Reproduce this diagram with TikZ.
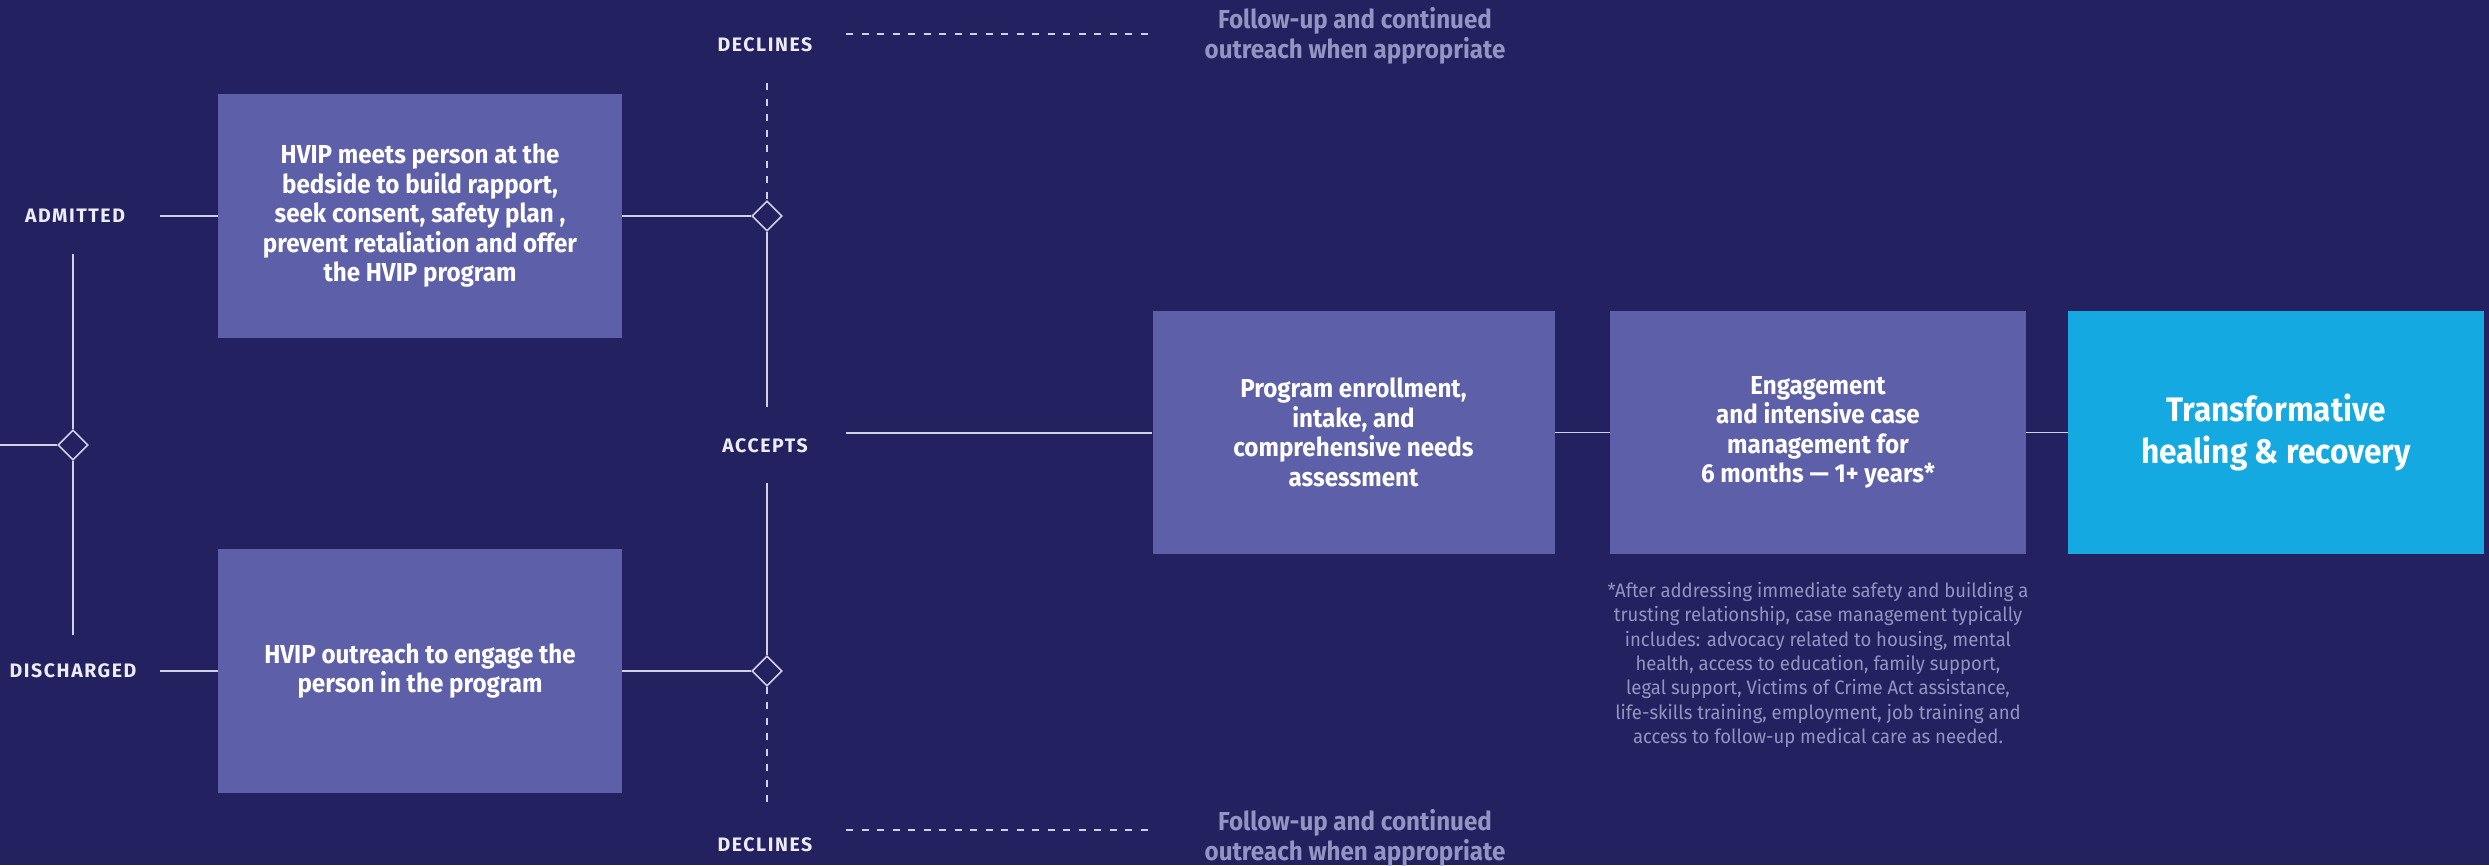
\documentclass[tikz,border=0pt]{standalone}
\usepackage{fontspec}
\usetikzlibrary{shapes.geometric}
\setmainfont{Fira Sans}
\newfontfamily\condf{Fira Sans}[FakeStretch=0.93]
\newfontfamily\notef{Fira Sans}[FakeStretch=0.95]
\newfontfamily\lblf{Fira Sans}[LetterSpace=8]
\definecolor{bg}{HTML}{23215F}
\definecolor{boxc}{HTML}{5D60A9}
\definecolor{cyanc}{HTML}{14AAE1}
\definecolor{linec}{HTML}{D0D0E6}
\definecolor{greyt}{HTML}{9394C2}
\definecolor{lblc}{HTML}{ECECF6}
\tikzset{
  conn/.style={draw=linec, line width=1.6pt},
  dashconn/.style={conn, dash pattern=on 7pt off 8.5pt},
  pbox/.style={fill=boxc, draw=none, inner sep=0pt, align=center, text=white,
    font=\condf\bfseries\fontsize{26}{29.5}\selectfont},
  cbox/.style={pbox, fill=cyanc, font=\condf\bfseries\fontsize{34}{41.5}\selectfont},
  dia/.style={diamond, draw=linec, line width=1.6pt, fill=bg, inner sep=0pt,
    minimum width=30pt, minimum height=30pt},
  lbl/.style={text=lblc, inner sep=0pt, font=\lblf\bfseries\fontsize{19.5}{22}\selectfont},
  fu/.style={text=greyt, align=center, inner sep=0pt,
    font=\condf\bfseries\fontsize{26}{30}\selectfont},
  note/.style={text=greyt, align=center, inner sep=0pt,
    font=\notef\fontsize{19.5}{24.3}\selectfont}
}
\begin{document}
\begin{tikzpicture}[x=1pt,y=-1pt]
\fill[bg] (0,0) rectangle (2489,865);
\useasboundingbox (0,0) rectangle (2489,865);

% labels
\node[lbl] (adm) at (75,216) {ADMITTED};
\node[lbl] (dis) at (73,671) {DISCHARGED};
\node[lbl] (dec1) at (765,45) {DECLINES};
\node[lbl] (acc) at (765,446) {ACCEPTS};
\node[lbl] (dec2) at (765,845) {DECLINES};

% boxes
\node[pbox, minimum width=404pt, minimum height=244pt] (box1) at (420,216)
  {HVIP meets person at the\\ bedside to build rapport,\\ seek consent, safety plan ,\\ prevent retaliation and offer\\ the HVIP program};
\node[pbox, minimum width=404pt, minimum height=244pt] (box2) at (420,671)
  {HVIP outreach to engage the\\ person in the program};
\node[pbox, minimum width=402pt, minimum height=243pt] (box3) at (1353.5,432.5)
  {Program enrollment,\\ intake, and\\ comprehensive needs\\ assessment};
\node[pbox, minimum width=416pt, minimum height=243pt] (box4) at (1818,432.5)
  {Engagement\\ and intensive case\\ management for\\ 6 months — 1+ years*};
\node[cbox, minimum width=416pt, minimum height=243pt] (box5) at (2276,432.5)
  {Transformative\\ healing \& recovery};

% follow-up texts
\node[fu] (fu1) at (1355,36) {Follow-up and continued\\ outreach when appropriate};
\node[fu] (fu2) at (1355,838) {Follow-up and continued\\ outreach when appropriate};

% footnote
\node[note] (fn) at (1818,665)
  {*After addressing immediate safety and building a\\ trusting relationship, case management typically\\ includes: advocacy related to housing, mental\\ health, access to education, family support,\\ legal support, Victims of Crime Act assistance,\\ life-skills training, employment, job training and\\ access to follow-up medical care as needed.};

% diamonds
\node[dia] (d0) at (73,445) {};
\node[dia] (d1) at (767,216) {};
\node[dia] (d2) at (767,671) {};

% coordinates for free ends
\coordinate (c0) at (0,445);
\coordinate (v0t) at (73,254);
\coordinate (v0b) at (73,635);
\coordinate (a1) at (160,216);
\coordinate (b1) at (160,671);
\coordinate (d1t) at (767,83);
\coordinate (d1b) at (767,407);
\coordinate (d2t) at (767,483);
\coordinate (d2b) at (767,805);
\coordinate (h1s) at (846,34);
\coordinate (h1e) at (1154,34);
\coordinate (h3s) at (846,830);
\coordinate (h3e) at (1154,830);
\coordinate (accs) at (846,433);

% connectors
\draw[conn] (c0) -- (d0.west);
\draw[conn] (v0t) -- (d0.north);
\draw[conn] (d0.south) -- (v0b);
\draw[conn] (a1) -- (box1.west);
\draw[conn] (b1) -- (box2.west);
\draw[conn] (box1.east) -- (d1.west);
\draw[conn] (box2.east) -- (d2.west);
\draw[dashconn] (d1t) -- (d1.north);
\draw[conn] (d1.south) -- (d1b);
\draw[conn] (d2t) -- (d2.north);
\draw[dashconn] (d2.south) -- (d2b);
\draw[dashconn] (h1s) -- (h1e);
\draw[dashconn] (h3s) -- (h3e);
\draw[conn] (accs) -- (accs -| box3.west);
\draw[conn] (box3.east) -- (box4.west);
\draw[conn] (box4.east) -- (box5.west);
\end{tikzpicture}
\end{document}
